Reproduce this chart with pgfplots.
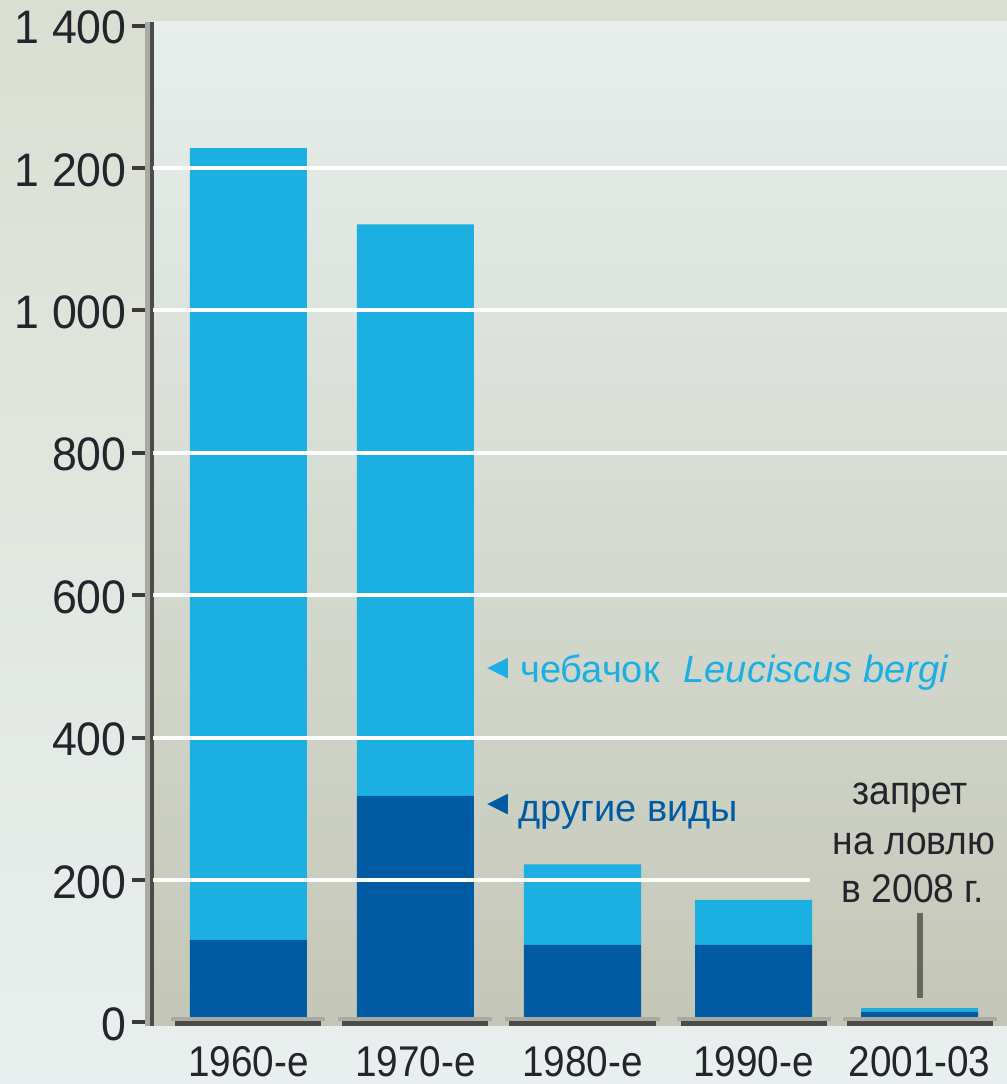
\documentclass[border=0pt]{standalone}
\usepackage{pgfplots}
\pgfplotsset{compat=1.18}
\usepackage{fontspec}
\setmainfont{Liberation Sans}
\newfontfamily\catfont{Liberation Sans}[FakeStretch=0.9]
\newfontfamily\tickfont{Liberation Sans}[FakeStretch=0.95]
\newfontfamily\annfont{Liberation Sans}[FakeStretch=0.93]
\newfontfamily\symfont{DejaVu Sans}
\definecolor{lightbar}{HTML}{1BAFE2}
\definecolor{darkbar}{HTML}{005BA3}
\definecolor{outertop}{HTML}{DBDED2}
\definecolor{outermid}{HTML}{E2E7E1}
\definecolor{outerbot}{HTML}{E8EFEE}
\definecolor{plottop}{HTML}{E7EEEC}
\definecolor{plotmid}{HTML}{DAE0D8}
\definecolor{plotbot}{HTML}{C4C7B7}
\definecolor{axisdark}{HTML}{4C4B48}
\definecolor{axislight}{HTML}{A9AAA3}
\definecolor{tickcol}{HTML}{3A3A3A}
\definecolor{labcol}{HTML}{24242C}
\definecolor{annline}{HTML}{67675F}

\pgfplotstableread{
x      other  cheb
248.5  116    1112
415.5  318    803
582.5  109    113
753.5  109    63
919.5  15     5
}\datatable

\begin{document}
\begin{tikzpicture}
\shade[top color=outertop, middle color=outermid, bottom color=outerbot] (0,0) rectangle (503.5pt,542pt);
\useasboundingbox (0,0) rectangle (503.5pt,542pt);
\begin{axis}[
  at={(76.5pt,29pt)}, anchor=south west,
  scale only axis, width=427pt, height=502pt,
  xmin=153, xmax=1007, ymin=-5.06, ymax=1405.1,
  clip=false,
  axis line style={draw=none},
  major tick length=0pt,
  axis background/.style={shade, top color=plottop, middle color=plotmid, bottom color=plotbot},
  ytick={0,200,400,600,800,1000,1200,1400},
  yticklabels={0,200,400,600,800,1\ 000,1\ 200,1\ 400},
  yticklabel style={font=\tickfont\fontsize{23.5pt}{23.5pt}\selectfont, text=labcol, anchor=east, inner sep=0pt, xshift=-13pt, yshift=-1pt},
  xtick={248.5,415.5,582.5,753.5,919.5},
  xticklabels={1960-е,1970-е,1980-е,1990-е,2001-03},
  xticklabel style={font=\catfont\fontsize{21.5pt}{21.5pt}\selectfont, text=labcol, anchor=base, inner sep=0pt, yshift=-25pt},
  ybar stacked, bar width=58.5pt,
]
% gridlines
\draw[white, line width=2pt] (axis cs:153,200) -- (axis cs:810,200);
\draw[white, line width=2pt] (axis cs:153,400) -- (axis cs:1007,400);
\draw[white, line width=2pt] (axis cs:153,600) -- (axis cs:1007,600);
\draw[white, line width=2pt] (axis cs:153,800) -- (axis cs:1007,800);
\draw[white, line width=2pt] (axis cs:153,1000) -- (axis cs:1007,1000);
\draw[white, line width=2pt] (axis cs:153,1200) -- (axis cs:1007,1200);
% baseline segments under bars
\pgfplotsinvokeforeach{248.5,415.5,582.5,753.5,919.5}{
  \fill[axislight] (axis cs:#1-77,7.6) rectangle (axis cs:#1+77,2.0);
  \fill[axisdark] (axis cs:#1-73,2.0) rectangle (axis cs:#1+73,-5.06);
}
% left axis
\fill[axislight] (axis cs:145,-5.06) rectangle (axis cs:150,1405.1);
\fill[axisdark] (axis cs:150,-5.06) rectangle (axis cs:154,1405.1);
\pgfplotsinvokeforeach{0,200,400,600,800,1000,1200,1400}{
  \draw[tickcol, line width=2pt] (axis cs:132,#1) -- (axis cs:154,#1);
}
\addplot[fill=darkbar, draw=none] table[x=x, y=other] {\datatable};
\addplot[fill=lightbar, draw=none] table[x=x, y=cheb] {\datatable};
% legend-like labels
\node[anchor=center, text=lightbar, inner sep=0pt] at (axis cs:498.5,496.3) {\symfont\fontsize{21pt}{21pt}\selectfont ◂};
\node[anchor=base west, text=lightbar, inner sep=0pt] at (axis cs:520,476.7) {\fontsize{19pt}{19pt}\selectfont чебачок\hspace{12pt}\textit{Leuciscus bergi}};
\node[anchor=center, text=darkbar, inner sep=0pt] at (axis cs:498.5,305.3) {\symfont\fontsize{21pt}{21pt}\selectfont ◂};
\node[anchor=base west, text=darkbar, inner sep=0pt] at (axis cs:518,281.9) {\fontsize{19pt}{19pt}\selectfont другие виды};
% annotation
\node[anchor=base, text=labcol, inner sep=0pt] at (axis cs:910,306.7) {\annfont\fontsize{20pt}{20pt}\selectfont запрет};
\node[anchor=base, text=labcol, inner sep=0pt] at (axis cs:914,236.5) {\annfont\fontsize{20pt}{20pt}\selectfont на ловлю};
\node[anchor=base, text=labcol, inner sep=0pt] at (axis cs:913,167.7) {\annfont\fontsize{20pt}{20pt}\selectfont в 2008 г.};
\draw[annline, line width=3pt] (axis cs:919.5,153.7) -- (axis cs:919.5,34.3);
\end{axis}
\end{tikzpicture}
\end{document}
